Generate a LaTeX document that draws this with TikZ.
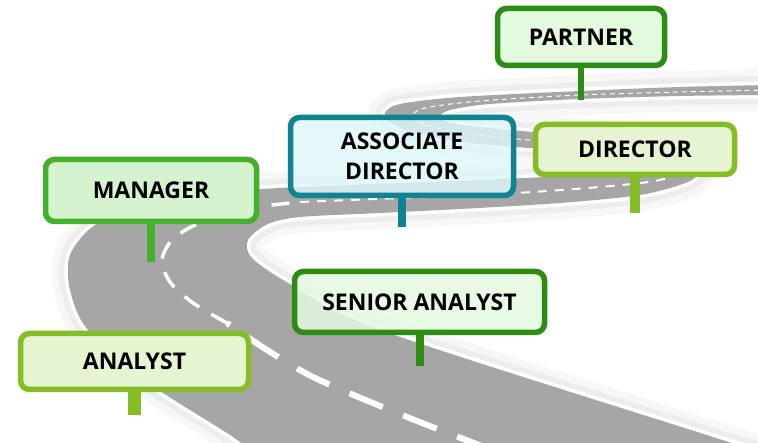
\documentclass[tikz,border=0pt]{standalone}
\usepackage{fontspec}
\usepackage{tikz}
\usetikzlibrary{positioning}
\newfontfamily\signfont{Open Sans}
\definecolor{roadgrey}{HTML}{A6A6A6}
\definecolor{roadhalo}{HTML}{EDEDED}
\definecolor{roadhaze}{HTML}{F7F7F7}
\definecolor{postdark}{HTML}{2D8C13}
\definecolor{postdarkfill}{HTML}{E4FADF}
\definecolor{postlime}{HTML}{86BD26}
\definecolor{postlimefill}{HTML}{E7F4D2}
\definecolor{postmid}{HTML}{45B02C}
\definecolor{postmidfill}{HTML}{D6F3D0}
\definecolor{postteal}{HTML}{0F8391}
\definecolor{posttealfill}{HTML}{DFF6FA}
\tikzset{signbox/.style = {draw, line width = 5.5pt, rounded corners = 9pt, inner sep = 0, align = center, font = \signfont\bfseries\fontsize{23}{30}\selectfont}}
\tikzset{signpost/.style = {line width = #1}}
\tikzset{centreline/.style = {white, line cap = butt}}

\begin{document}
\begin{tikzpicture}[x = 1pt, y = -1pt]
    \useasboundingbox (0, 0) rectangle (758, 443);
    \fill [white] (0, 0) rectangle (758, 443);

    \path [line join = round, preaction = {draw = roadhaze, line width = 32pt}, preaction = {draw = roadhalo, line width = 18pt}, preaction = {draw = white, line width = 7pt}, fill = roadgrey]
        plot [smooth] coordinates {(275, 470) (233, 437) (150, 384) (88, 330) (70, 290) (70, 255) (95, 225) (150, 203) (250, 190) (350, 185) (480, 180) (600, 174) (650, 168) (662, 160) (640, 153) (560, 150) (470, 143) (420, 134) (392, 124) (385, 113) (400, 104) (460, 97) (580, 91) (680, 87) (770, 85)}
        -- plot [smooth] coordinates {(770, 95) (680, 96) (580, 99) (490, 104) (450, 110) (440, 117) (455, 124) (520, 131) (600, 136) (670, 141) (700, 152) (702, 168) (688, 182) (640, 195) (560, 203) (460, 209) (380, 213) (300, 217) (268, 224) (248, 240) (252, 258) (290, 284) (380, 330) (713, 437) (765, 454) (765, 470)}
        -- cycle;

    \draw [centreline, line width = 6pt, dash pattern = on 36pt off 22pt] plot [smooth] coordinates {(545, 470) (440, 430) (380, 406) (313, 377) (267, 350) (227, 323)};
    \draw [centreline, line width = 3.5pt, dash pattern = on 18pt off 14pt] plot [smooth] coordinates {(227, 323) (193, 303) (170, 282) (162, 260) (172, 240) (195, 225) (230, 213) (265, 206) (300, 202)};
    \draw [centreline, line width = 2pt, dash pattern = on 9pt off 8pt] plot [smooth] coordinates {(300, 202) (400, 198) (500, 194) (600, 187) (660, 180) (682, 168) (672, 155) (620, 146)};
    \draw [centreline, line width = 1pt, dash pattern = on 5pt off 4pt] plot [smooth] coordinates {(620, 146) (540, 141) (470, 134) (430, 126) (412, 117) (425, 108) (480, 101) (580, 95) (680, 92) (770, 90)};

    \node [signbox, draw = postdark, fill = postdarkfill, minimum width = 167pt, minimum height = 57pt] (partner) at (581, 37) {PARTNER};
    \node [signbox, draw = postlime, fill = postlimefill, minimum width = 199pt, minimum height = 50pt] (director) at (635, 149.5) {DIRECTOR};
    \node [signbox, draw = postteal, fill = posttealfill, fill opacity = 0.82, text opacity = 1, minimum width = 223pt, minimum height = 78pt] (assocdirector) at (402, 156.5) {ASSOCIATE\\DIRECTOR};
    \node [signbox, draw = postmid, fill = postmidfill, minimum width = 211pt, minimum height = 62pt] (manager) at (151, 190.5) {MANAGER};
    \node [signbox, draw = postdark, fill = postdarkfill, fill opacity = 0.85, text opacity = 1, minimum width = 250pt, minimum height = 61pt] (senioranalyst) at (419.5, 302) {SENIOR ANALYST};
    \node [signbox, draw = postlime, fill = postlimefill, minimum width = 228pt, minimum height = 56pt] (analyst) at (134.5, 361.5) {ANALYST};

    \coordinate [below = 31.5pt of partner.south] (partner-foot);
    \coordinate [below = 35.5pt of director.south] (director-foot);
    \coordinate [below = 28.5pt of assocdirector.south] (assocdirector-foot);
    \coordinate [below = 37.5pt of manager.south] (manager-foot);
    \coordinate [below = 30.5pt of senioranalyst.south] (senioranalyst-foot);
    \coordinate [below = 22.5pt of analyst.south] (analyst-foot);
    \draw [signpost = 5.3pt, postdark] (partner.south) -- (partner-foot);
    \draw [signpost = 10pt, postlime] (director.south) -- (director-foot);
    \draw [signpost = 7.7pt, postteal] (assocdirector.south) -- (assocdirector-foot);
    \draw [signpost = 8pt, postmid] (manager.south) -- (manager-foot);
    \draw [signpost = 8pt, postdark] (senioranalyst.south) -- (senioranalyst-foot);
    \draw [signpost = 13pt, postlime] (analyst.south) -- (analyst-foot);
\end{tikzpicture}
\end{document}
